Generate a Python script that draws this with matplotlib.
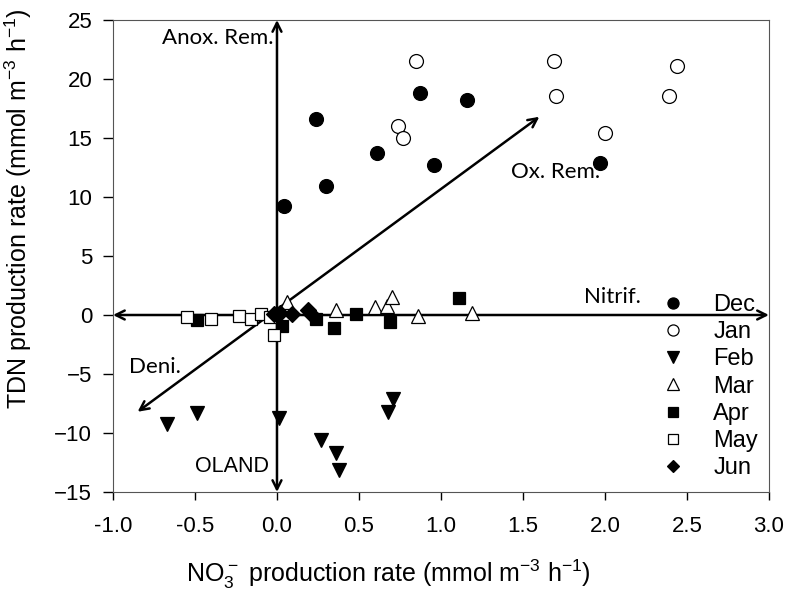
import matplotlib
matplotlib.use("Agg")
from matplotlib import pyplot as plt

plt.rcParams["font.family"] = ["Liberation Sans", "DejaVu Sans"]
plt.rcParams["mathtext.fontset"] = "custom"
plt.rcParams["mathtext.rm"] = "Liberation Sans"
plt.rcParams["mathtext.default"] = "regular"

months = ["Dec", "Jan", "Feb", "Mar", "Apr", "May", "Jun"]

dec_x = [0.04, 0.24, 0.30, 0.61, 0.87, 0.96, 1.16, 1.97]
dec_y = [9.2, 16.6, 10.9, 13.7, 18.8, 12.7, 18.2, 12.9]

jan_x = [0.85, 0.74, 0.77, 1.69, 1.70, 2.00, 2.39, 2.44]
jan_y = [21.5, 16.0, 15.0, 21.5, 18.6, 15.4, 18.6, 21.1]

feb_x = [-0.67, -0.49, 0.01, 0.27, 0.36, 0.38, 0.68, 0.71]
feb_y = [-9.2, -8.3, -8.7, -10.6, -11.7, -13.1, -8.2, -7.1]

mar_x = [0.06, 0.36, 0.60, 0.67, 0.70, 0.86, 1.19]
mar_y = [1.1, 0.4, 0.7, 0.8, 1.5, -0.1, 0.2]

apr_x = [-0.49, 0.03, 0.24, 0.35, 0.48, 0.69, 1.11]
apr_y = [-0.4, -0.9, -0.3, -1.1, 0.1, -0.6, 1.4]

may_x = [-0.55, -0.40, -0.23, -0.16, -0.10, -0.04, -0.02]
may_y = [-0.2, -0.3, -0.1, -0.3, 0.1, -0.2, -1.7]

jun_x = [-0.02, 0.02, 0.09, 0.19, 0.21]
jun_y = [0.1, 0.2, 0.1, 0.4, 0.1]

x_ticks = [-1.0, -0.5, 0.0, 0.5, 1.0, 1.5, 2.0, 2.5, 3.0]
y_ticks = [-15, -10, -5, 0, 5, 10, 15, 20, 25]


def main():
    figure = plt.figure(figsize=(7.87, 5.89), dpi=100)
    axis = figure.add_axes([0.1436, 0.1647, 0.8334, 0.8013])

    arrow = dict(arrowstyle="<->", color="black", linewidth=1.8,
                 shrinkA=0, shrinkB=0, mutation_scale=16)
    axis.annotate("", xy=(0, 25), xytext=(0, -15), arrowprops=arrow)
    axis.annotate("", xy=(3, 0), xytext=(-1, 0), arrowprops=arrow)
    axis.annotate("", xy=(1.6, 16.8), xytext=(-0.85, -8.2), arrowprops=arrow)

    series = [
        (dec_x, dec_y, "o", "black", 10),
        (jan_x, jan_y, "o", "white", 10),
        (feb_x, feb_y, "v", "black", 10.5),
        (mar_x, mar_y, "^", "white", 10.5),
        (apr_x, apr_y, "s", "black", 9),
        (may_x, may_y, "s", "white", 9),
        (jun_x, jun_y, "D", "black", 8),
    ]
    handles = []
    for (xs, ys, marker, face, size), name in zip(series, months):
        line, = axis.plot(xs, ys, linestyle="none", marker=marker,
                          markersize=size, markerfacecolor=face,
                          markeredgecolor="black", markeredgewidth=0.9,
                          label=name, zorder=3)
        handles.append(line)

    axis.legend(handles=handles, loc="lower right",
                bbox_to_anchor=(1.012, -0.013), frameon=False,
                fontsize=17, handletextpad=1.1, handlelength=1.2,
                labelspacing=0.22, markerscale=0.8, borderpad=0.3)

    label_font = dict(family=["Lato", "DejaVu Sans"], fontsize=16)
    axis.text(-0.02, 23.5, "Anox. Rem.", ha="right", va="center", **label_font)
    axis.text(1.43, 12.1, "Ox. Rem.", ha="left", va="center", **label_font)
    axis.text(1.87, 1.5, "Nitrif.", ha="left", va="center", **label_font)
    axis.text(-0.9, -4.4, "Deni.", ha="left", va="center", **label_font)
    axis.text(-0.05, -12.8, "OLAND", ha="right", va="center", fontsize=15.5)

    axis.set_xlim(-1.0, 3.0)
    axis.set_ylim(-15, 25)
    axis.set_xticks(x_ticks)
    axis.set_xticklabels(["%.1f" % v for v in x_ticks])
    axis.set_yticks(y_ticks)
    axis.tick_params(axis="x", direction="out", length=6, labelsize=16,
                     width=1, pad=11)
    axis.tick_params(axis="y", direction="out", length=7, labelsize=16,
                     width=1, pad=8)
    for spine in axis.spines.values():
        spine.set_color("#555555")

    axis.set_xlabel(r"NO$_3^-$ production rate (mmol m$^{-3}$ h$^{-1}$)",
                    fontsize=18)
    axis.set_ylabel(r"TDN production rate (mmol m$^{-3}$ h$^{-1}$)",
                    fontsize=18)
    axis.xaxis.set_label_coords(0.42, -0.138)
    axis.yaxis.set_label_coords(-0.12, 0.60)

    figure.savefig("out.png", dpi=100)


main()
